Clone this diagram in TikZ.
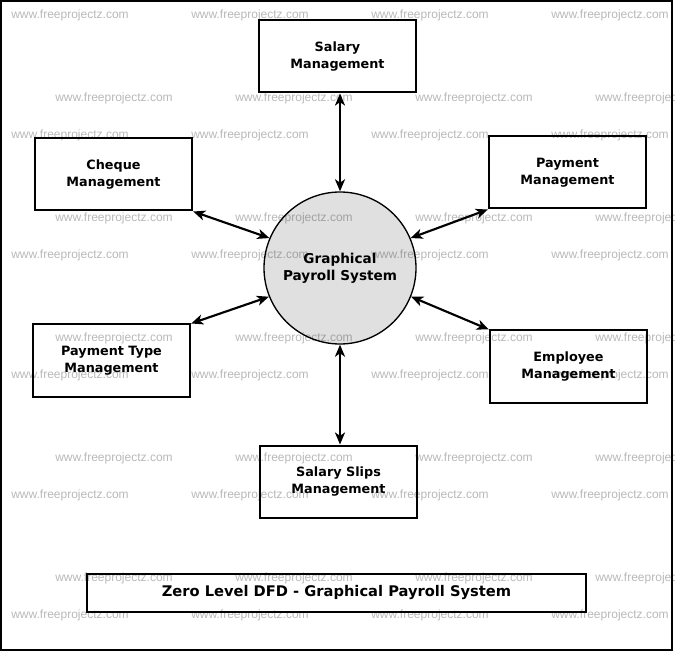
\documentclass[tikz,border=0pt]{standalone}
\usepackage{fontspec}
\setmainfont{DejaVu Sans}
\newfontfamily\wmfont{Liberation Sans}
\usepackage{xcolor}
\usepackage{tikz}
\usetikzlibrary{arrows.meta}
\usetikzlibrary{shapes}
\definecolor{procfill}{RGB}{224,224,224}

\begin{document}
\begin{tikzpicture}[x = 0.75pt, y = -0.75pt,
        entity/.style = {draw, line width = 1.5pt, fill = white,
            minimum width = 118pt, minimum height = 54pt, inner sep = 0pt,
            align = center, font = \bfseries\fontsize{9.6}{12.75}\selectfont},
        process/.style = {circle, draw, line width = 1pt, fill = procfill,
            minimum size = 114pt, inner sep = 0pt,
            align = center, font = \bfseries\fontsize{10.2}{12.75}\selectfont},
        flow/.style = {{Stealth[length = 9pt, width = 7.5pt, inset = 2.5pt]}-{Stealth[length = 9pt, width = 7.5pt, inset = 2.5pt]},
            line width = 1.6pt},
        watermark/.style = {text = black, text opacity = 0.28, inner sep = 0pt,
            font = \wmfont\fontsize{9}{9}\selectfont}]
        \useasboundingbox (0, 0) rectangle (675, 652);
        \draw[line width = 1.5pt] (1, 1) rectangle (672, 650);

        % process in the middle
        \node[process] (gps) at (340, 268) {Graphical\\Payroll System};

        % external entities
        \node[entity] (salary) at (337.5, 56.5) {Salary\\Management};
        \node[entity] (cheque) at (113.5, 174.5) {Cheque\\Management};
        \node[entity] (payment) at (567.5, 172.5) {Payment\\Management};
        \node[entity] (ptype) at (111.5, 360.5) {Payment Type\\Management};
        \node[entity] (employee) at (568.5, 366.5) {Employee\\Management};
        \node[entity] (slips) at (338.5, 481.5) {Salary Slips\\Management};

        \node[draw, line width = 1.5pt, minimum width = 374pt, minimum height = 29pt,
            font = \bfseries\fontsize{11}{13}\selectfont] (title) at (336.5, 593)
            {Zero Level DFD - Graphical Payroll System};

        % flows
        \draw[flow] (gps.north) -- (gps.north |- salary.south);
        \draw[flow] (gps.south) -- (gps.south |- slips.north);
        \draw[flow] (gps.157) -- (cheque.south east);
        \draw[flow] (gps.23) -- (payment.south west);
        \draw[flow] (gps.202) -- (ptype.north east);
        \draw[flow] (gps.338) -- (employee.north west);

        % watermark
        \begin{scope}
            \clip (0, 0) rectangle (675, 652);
            \foreach \wy in {15, 135, ..., 615}
                \foreach \wx in {70, 250, 430, 610}
                    \node[watermark] (wa-\wx-\wy) at (\wx, \wy) {www.freeprojectz.com};
            \foreach \wy in {98, 218, ..., 578}
                \foreach \wx in {114, 294, 474, 654}
                    \node[watermark] (wb-\wx-\wy) at (\wx, \wy) {www.freeprojectz.com};
        \end{scope}
\end{tikzpicture}
\end{document}
